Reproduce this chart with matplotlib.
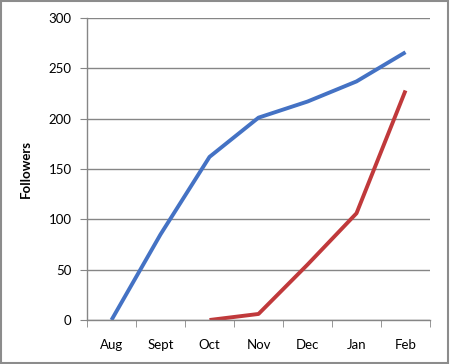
import matplotlib
matplotlib.use("Agg")
import matplotlib.pyplot as plt
from matplotlib.patches import Rectangle

months = ["Aug", "Sept", "Oct", "Nov", "Dec", "Jan", "Feb"]
blue_vals = [0, 85, 162, 201, 217, 237, 266]
red_months = ["Oct", "Nov", "Dec", "Jan", "Feb"]
red_vals = [0, 6, 55, 106, 228]
yticks = [0, 50, 100, 150, 200, 250, 300]

plt.rcParams['font.family'] = ['Lato', 'DejaVu Sans']

fig = plt.figure(figsize=(4.5, 3.64), dpi=100)
fig.patches.append(Rectangle((0.002, 0.003), 0.994, 0.993, transform=fig.transFigure,
                             fill=False, edgecolor="#8c8c8c", linewidth=1.5))
ax = fig.add_axes([87/450, 44/364, (430-87)/450, (320-18)/364])

xpos = {m: i for i, m in enumerate(months)}
ax.plot([xpos[m] for m in months], blue_vals, color="#4472c4", linewidth=2.8,
        solid_capstyle="butt", solid_joinstyle="round")
ax.plot([xpos[m] for m in red_months], red_vals, color="#c0393b", linewidth=2.8,
        solid_capstyle="butt", solid_joinstyle="round")

ax.set_xlim(-0.5, len(months) - 0.5)
ax.set_ylim(0, 300)
ax.set_yticks(yticks)
ax.set_xticks(range(len(months)))
ax.set_xticklabels(months)
ax.set_xticks([i - 0.5 for i in range(len(months) + 1)], minor=True)
ax.tick_params(axis="x", which="major", length=0, pad=14, labelsize=9.5)
ax.tick_params(axis="x", which="minor", length=5, color="#868686", direction="out")
ax.tick_params(axis="y", length=5, color="#868686", direction="out", pad=6, labelsize=9.5)
ax.yaxis.grid(True, color="#868686", linewidth=1)
ax.set_axisbelow(True)
for s in ["top", "right"]:
    ax.spines[s].set_visible(False)
for s in ["left", "bottom"]:
    ax.spines[s].set_color("#868686")
    ax.spines[s].set_linewidth(1)
ax.set_ylabel("Followers", fontsize=9.5, fontweight="bold", labelpad=12)

fig.savefig("out.png", dpi=100)
